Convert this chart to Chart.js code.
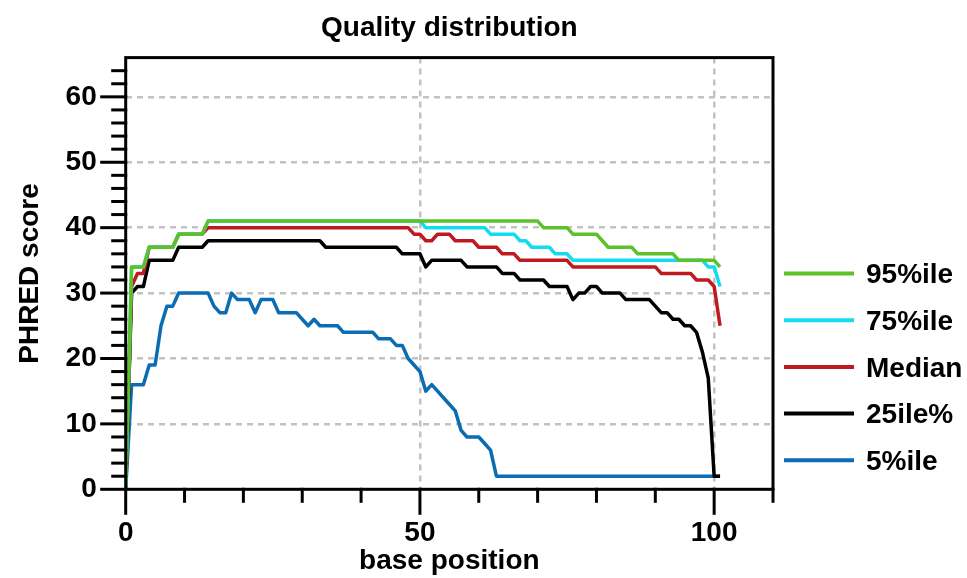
<!DOCTYPE html>
<html>
<head>
<meta charset="utf-8">
<title>Quality distribution</title>
<script src="https://cdn.jsdelivr.net/npm/chart.js@4.4.1/dist/chart.umd.min.js"></script>
<style>
    html, body { margin: 0; padding: 0; background: #fff; }
    #wrap { width: 967px; height: 578px; }
</style>
</head>
<body>
<div id="wrap"><canvas id="qualityChart" width="967" height="578"></canvas></div>
<script>
// Data (base position -> PHRED score)
const positions = [
    0, 1, 2, 3, 4, 5, 6, 7, 8, 9,
    10, 11, 12, 13, 14, 15, 16, 17, 18, 19,
    20, 21, 22, 23, 24, 25, 26, 27, 28, 29,
    30, 31, 32, 33, 34, 35, 36, 37, 38, 39,
    40, 41, 42, 43, 44, 45, 46, 47, 48, 49,
    50, 51, 52, 53, 54, 55, 56, 57, 58, 59,
    60, 61, 62, 63, 64, 65, 66, 67, 68, 69,
    70, 71, 72, 73, 74, 75, 76, 77, 78, 79,
    80, 81, 82, 83, 84, 85, 86, 87, 88, 89,
    90, 91, 92, 93, 94, 95, 96, 97, 98, 99,
    100, 101
];

const pct95 = [
    0, 34, 34, 34, 37, 37, 37, 37, 37, 39,
    39, 39, 39, 39, 41, 41, 41, 41, 41, 41,
    41, 41, 41, 41, 41, 41, 41, 41, 41, 41,
    41, 41, 41, 41, 41, 41, 41, 41, 41, 41,
    41, 41, 41, 41, 41, 41, 41, 41, 41, 41,
    41, 41, 41, 41, 41, 41, 41, 41, 41, 41,
    41, 41, 41, 41, 41, 41, 41, 41, 41, 41,
    41, 40, 40, 40, 40, 40, 39, 39, 39, 39,
    39, 38, 37, 37, 37, 37, 37, 36, 36, 36,
    36, 36, 36, 36, 35, 35, 35, 35, 35, 35,
    35, 34
];

const pct75 = [
    0, 34, 34, 34, 37, 37, 37, 37, 37, 39,
    39, 39, 39, 39, 41, 41, 41, 41, 41, 41,
    41, 41, 41, 41, 41, 41, 41, 41, 41, 41,
    41, 41, 41, 41, 41, 41, 41, 41, 41, 41,
    41, 41, 41, 41, 41, 41, 41, 41, 41, 41,
    41, 40, 40, 40, 40, 40, 40, 40, 40, 40,
    40, 40, 39, 39, 39, 39, 39, 38, 38, 37,
    37, 37, 37, 36, 36, 36, 35, 35, 35, 35,
    35, 35, 35, 35, 35, 35, 35, 35, 35, 35,
    35, 35, 35, 35, 35, 35, 35, 35, 35, 34,
    34, 31
];

const median = [
    0, 31, 33, 33, 37, 37, 37, 37, 37, 39,
    39, 39, 39, 39, 40, 40, 40, 40, 40, 40,
    40, 40, 40, 40, 40, 40, 40, 40, 40, 40,
    40, 40, 40, 40, 40, 40, 40, 40, 40, 40,
    40, 40, 40, 40, 40, 40, 40, 40, 40, 39,
    39, 38, 38, 39, 39, 39, 38, 38, 38, 38,
    37, 37, 37, 37, 36, 36, 36, 35, 35, 35,
    35, 35, 35, 35, 35, 35, 34, 34, 34, 34,
    34, 34, 34, 34, 34, 34, 34, 34, 34, 34,
    34, 33, 33, 33, 33, 33, 33, 32, 32, 32,
    31, 25
];

const pct25 = [
    0, 30, 31, 31, 35, 35, 35, 35, 35, 37,
    37, 37, 37, 37, 38, 38, 38, 38, 38, 38,
    38, 38, 38, 38, 38, 38, 38, 38, 38, 38,
    38, 38, 38, 38, 37, 37, 37, 37, 37, 37,
    37, 37, 37, 37, 37, 37, 37, 36, 36, 36,
    36, 34, 35, 35, 35, 35, 35, 35, 34, 34,
    34, 34, 34, 34, 33, 33, 33, 32, 32, 32,
    32, 32, 31, 31, 31, 31, 29, 30, 30, 31,
    31, 30, 30, 30, 30, 29, 29, 29, 29, 29,
    28, 27, 27, 26, 26, 25, 25, 24, 21, 17,
    2, 2
];

const pct5 = [
    0, 16, 16, 16, 19, 19, 25, 28, 28, 30,
    30, 30, 30, 30, 30, 28, 27, 27, 30, 29,
    29, 29, 27, 29, 29, 29, 27, 27, 27, 27,
    26, 25, 26, 25, 25, 25, 25, 24, 24, 24,
    24, 24, 24, 23, 23, 23, 22, 22, 20, 19,
    18, 15, 16, 15, 14, 13, 12, 9, 8, 8,
    8, 7, 6, 2, 2, 2, 2, 2, 2, 2,
    2, 2, 2, 2, 2, 2, 2, 2, 2, 2,
    2, 2, 2, 2, 2, 2, 2, 2, 2, 2,
    2, 2, 2, 2, 2, 2, 2, 2, 2, 2,
    2, 2
];

const seriesLabels = ['95%ile', '75%ile', 'Median', '25ile%', '5%ile'];
const seriesColors = ['#5cc22a', '#14dcf0', '#bf1a20', '#000000', '#0a6db4'];
const seriesValues = [pct95, pct75, median, pct25, pct5];

const FONT = '"Liberation Sans", Arial, Helvetica, sans-serif';

// Helpers
function toPoints(values) {
    return values.map((v, i) => ({ x: positions[i], y: v }));
}

// Frame + tick marks (major ticks longer)
const axisMarks = {
    id: 'axisMarks',
    afterDraw(chart) {
        const { ctx, chartArea: area, scales: { x, y } } = chart;
        ctx.save();
        ctx.strokeStyle = '#000';
        ctx.lineWidth = 3;
        ctx.lineCap = 'square';
        ctx.strokeRect(area.left, area.top, area.right - area.left, area.bottom - area.top);

        x.ticks.forEach(t => {
            const px = x.getPixelForValue(t.value);
            const len = t.value % 50 === 0 ? 24 : 12;
            ctx.beginPath();
            ctx.moveTo(px, area.bottom);
            ctx.lineTo(px, area.bottom + len);
            ctx.stroke();
        });
        y.ticks.forEach(t => {
            if (t.value >= y.max) return;
            const py = y.getPixelForValue(t.value);
            const len = t.value % 10 === 0 ? 24 : 13;
            ctx.beginPath();
            ctx.moveTo(area.left, py);
            ctx.lineTo(area.left - len, py);
            ctx.stroke();
        });
        ctx.restore();
    }
};

// Legend on the right
const sideLegend = {
    id: 'sideLegend',
    afterDraw(chart) {
        const { ctx } = chart;
        ctx.save();
        ctx.font = 'bold 28px ' + FONT;
        ctx.textBaseline = 'middle';
        ctx.textAlign = 'left';
        chart.data.datasets.forEach((ds, i) => {
            const rowY = 273.5 + i * 46.7;
            ctx.strokeStyle = ds.borderColor;
            ctx.lineWidth = 4;
            ctx.beginPath();
            ctx.moveTo(784, rowY);
            ctx.lineTo(854, rowY);
            ctx.stroke();
            ctx.fillStyle = '#000';
            ctx.fillText(ds.label, 866, rowY + 2);
        });
        ctx.restore();
    }
};

Chart.defaults.font.family = FONT;
Chart.defaults.color = '#000';

const ctx = document.getElementById('qualityChart').getContext('2d');
new Chart(ctx, {
    type: 'line',
    data: {
        datasets: seriesValues.map((vals, i) => ({
            label: seriesLabels[i],
            data: toPoints(vals),
            borderColor: seriesColors[i],
            backgroundColor: seriesColors[i],
            borderWidth: 3.5,
            pointRadius: 0,
            tension: 0,
            fill: false,
            borderJoinStyle: 'round'
        }))
    },
    options: {
        responsive: false,
        animation: false,
        layout: { padding: { left: 0, right: 194, top: 0, bottom: 0 } },
        plugins: {
            legend: { display: false },
            tooltip: { enabled: false },
            title: {
                display: true,
                fullSize: false,
                text: 'Quality distribution',
                color: '#000',
                font: { size: 28, weight: 'bold' },
                padding: { top: 11, bottom: 13 }
            }
        },
        scales: {
            x: {
                type: 'linear',
                min: 0,
                max: 110,
                afterFit: s => { s.height = 88.7; },
                ticks: {
                    stepSize: 10,
                    autoSkip: false,
                    maxRotation: 0,
                    padding: 27,
                    font: { size: 28, weight: 'bold' },
                    callback: v => (v % 50 === 0 && v <= 100 ? v : '')
                },
                grid: {
                    drawTicks: false,
                    lineWidth: 2.5,
                    color: c => (c.tick && c.tick.value % 50 === 0 && c.tick.value > 0 && c.tick.value <= 100) ? '#c2c2c2' : 'rgba(0,0,0,0)'
                },
                border: { display: false, dash: [6, 5] },
                title: {
                    display: true,
                    text: 'base position',
                    font: { size: 28, weight: 'bold' },
                    padding: { top: 0, bottom: 0 }
                }
            },
            y: {
                min: 0,
                max: 66,
                afterFit: s => { s.width = 125.7; },
                ticks: {
                    stepSize: 2,
                    autoSkip: false,
                    padding: 29,
                    font: { size: 28, weight: 'bold' },
                    callback: v => (v % 10 === 0 ? v : '')
                },
                grid: {
                    drawTicks: false,
                    lineWidth: 2.5,
                    color: c => (c.tick && c.tick.value % 10 === 0 && c.tick.value > 0) ? '#c2c2c2' : 'rgba(0,0,0,0)'
                },
                border: { display: false, dash: [6, 5] },
                title: {
                    display: true,
                    text: 'PHRED score',
                    font: { size: 28, weight: 'bold' },
                    padding: { top: 13, bottom: 0 }
                }
            }
        }
    },
    plugins: [axisMarks, sideLegend]
});
</script>
</body>
</html>
